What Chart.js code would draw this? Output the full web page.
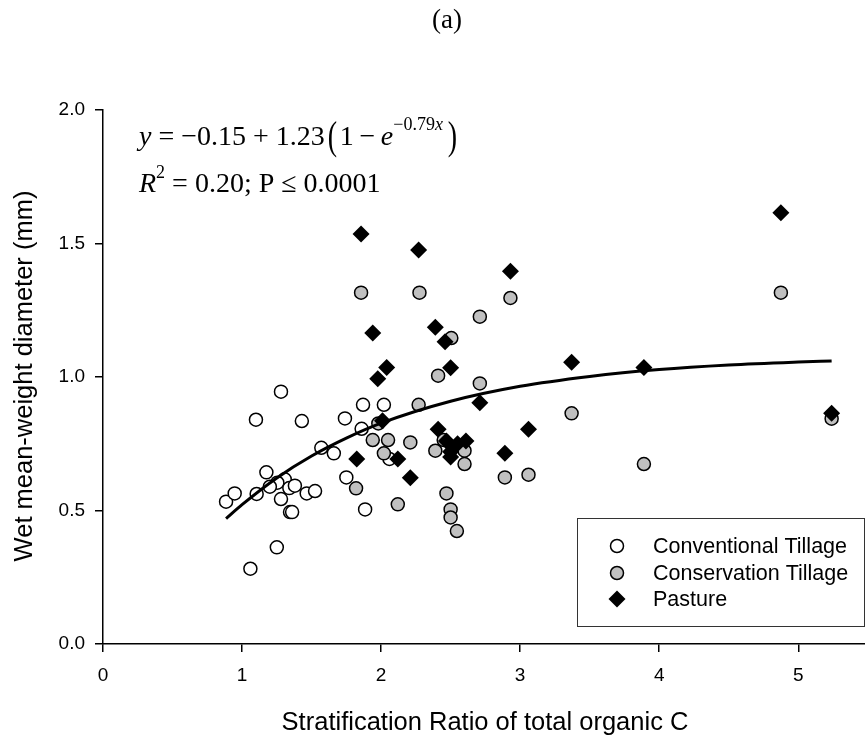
<!DOCTYPE html>
<html>
<head>
<meta charset="utf-8">
<title>Wet MWD vs stratification ratio</title>
<script src="https://cdn.jsdelivr.net/npm/chart.js@4"></script>
<style>
  html, body { margin: 0; padding: 0; background: #fff; }
  #wrap { width: 865px; height: 740px; }
</style>
</head>
<body>
<div id="wrap"><canvas id="myChart" width="865" height="740"></canvas></div>
<script>
// Conventional Tillage (open circles)
const convX = [0.885, 0.947, 1.06, 1.105, 1.10, 1.175, 1.25, 1.28, 1.28, 1.307, 1.254, 1.20, 1.34, 1.38,
    1.345, 1.36, 1.43, 1.465, 1.525, 1.57, 1.66, 1.74, 1.75, 1.86, 1.87, 1.885, 2.02, 2.06];
const convY = [0.533, 0.564, 0.282, 0.562, 0.84, 0.643, 0.362, 0.945, 0.543, 0.617, 0.604, 0.589, 0.584, 0.593,
    0.494, 0.494, 0.835, 0.564, 0.573, 0.735, 0.714, 0.845, 0.624, 0.806, 0.896, 0.504, 0.896, 0.693];

// Conservation Tillage (grey circles)
const consX = [1.82, 1.856, 1.94, 1.98, 2.02, 2.05, 2.12, 2.21, 2.27, 2.276, 2.39, 2.41, 2.45, 2.47, 2.50,
    2.50, 2.505, 2.545, 2.60, 2.60, 2.71, 2.71, 2.89, 2.93, 3.06, 3.37, 3.89, 4.875, 5.24];
const consY = [0.583, 1.316, 0.764, 0.826, 0.714, 0.764, 0.523, 0.755, 0.896, 1.316, 0.724, 1.005, 0.764, 0.564, 0.504,
    0.474, 1.146, 0.423, 0.724, 0.674, 1.226, 0.976, 0.624, 1.296, 0.634, 0.864, 0.674, 1.316, 0.844];

// Pasture (black diamonds)
const pastX = [1.825, 1.856, 1.94, 1.976, 2.01, 2.04, 2.12, 2.21, 2.27, 2.39, 2.41, 2.46, 2.47, 2.50, 2.50,
    2.50, 2.55, 2.61, 2.71, 2.89, 2.93, 3.06, 3.37, 3.89, 4.875, 5.24];
const pastY = [0.693, 1.536, 1.165, 0.993, 0.836, 1.036, 0.693, 0.623, 1.476, 1.186, 0.804, 1.132, 0.76, 1.035, 0.72,
    0.70, 0.75, 0.76, 0.904, 0.714, 1.396, 0.804, 1.055, 1.036, 1.615, 0.864];

// fitted curve
const fitX = [0.885, 1.0, 1.25, 1.5, 1.75, 2.0, 2.5, 3.0, 3.5, 4.0, 4.5, 5.0, 5.24];
const fitY = [0.47, 0.522, 0.622, 0.704, 0.771, 0.827, 0.909, 0.965, 1.002, 1.028, 1.045, 1.056, 1.06];

const xTicks = [0, 1, 2, 3, 4, 5];
const yTicks = [0.0, 0.5, 1.0, 1.5, 2.0];

const seriesNames = ["Conventional Tillage", "Conservation Tillage", "Pasture"];

function toPoints(xs, ys) {
    return xs.map((x, i) => ({ x: x, y: ys[i] }));
}

const SANS = '"Liberation Sans", Arial, sans-serif';
const SERIF = '"Liberation Serif", "Times New Roman", serif';

// El eje x llega hasta el borde derecho del lienzo
const areaPlugin = {
    id: "area",
    afterLayout(chart) {
        const s = chart.scales.x;
        const right = chart.width;
        s.right = right;
        s.width = right - s.left;
        s.configure();
        chart.chartArea.right = right;
        chart.chartArea.width = right - chart.chartArea.left;
    }
};

// Textos: titulo, ecuacion, titulos de ejes y leyenda
const textPlugin = {
    id: "textos",
    afterDraw(chart) {
        const ctx = chart.ctx;
        ctx.save();
        ctx.fillStyle = "#000";

        // (a)
        ctx.font = "27px " + SERIF;
        ctx.textAlign = "center";
        ctx.textBaseline = "alphabetic";
        ctx.fillText("(a)", 447, 28);

        // ecuacion
        ctx.textAlign = "left";
        let x = 139, base = 145;
        const put = (txt, font, dy) => {
            ctx.font = font;
            ctx.fillText(txt, x, base + (dy || 0));
            x += ctx.measureText(txt).width;
        };
        put("y", "italic 28px " + SERIF);
        put(" = \u22120.15 + 1.23", "28px " + SERIF);
        ctx.save();
        ctx.font = "28px " + SERIF;
        ctx.translate(x + 3, base - 9);
        ctx.scale(1, 1.4);
        ctx.fillText("(", 0, 9);
        ctx.restore();
        x += 15;
        put("1\u2009\u2212\u2009", "28px " + SERIF);
        put("e", "italic 28px " + SERIF);
        put("\u22120.79", "18px " + SERIF, -15);
        put("x", "italic 18px " + SERIF, -15);
        ctx.save();
        ctx.font = "28px " + SERIF;
        ctx.translate(x + 5, base - 9);
        ctx.scale(1, 1.4);
        ctx.fillText(")", 0, 9);
        ctx.restore();

        x = 139; base = 192;
        put("R", "italic 28px " + SERIF);
        put("2", "18px " + SERIF, -14);
        put(" = 0.20; P \u2264 0.0001", "28px " + SERIF);

        // titulos de ejes
        ctx.font = "25.5px " + SANS;
        ctx.textAlign = "center";
        ctx.textBaseline = "alphabetic";
        ctx.fillText("Stratification Ratio of total organic C", 485, 730);
        ctx.save();
        ctx.translate(32, 376);
        ctx.rotate(-Math.PI / 2);
        ctx.fillText("Wet mean-weight diameter (mm)", 0, 0);
        ctx.restore();

        // leyenda
        ctx.strokeStyle = "#333";
        ctx.lineWidth = 1;
        ctx.strokeRect(577.5, 518.5, 287, 108);
        ctx.font = "21.5px " + SANS;
        ctx.textAlign = "left";
        ctx.textBaseline = "middle";
        const rows = [546, 573, 599];
        const mx = 617;
        ctx.lineWidth = 1.5;
        ctx.strokeStyle = "#000";
        ctx.beginPath();
        ctx.arc(mx, rows[0], 6.5, 0, 2 * Math.PI);
        ctx.fillStyle = "#fff"; ctx.fill(); ctx.stroke();
        ctx.beginPath();
        ctx.arc(mx, rows[1], 6.5, 0, 2 * Math.PI);
        ctx.fillStyle = "#c0c0c0"; ctx.fill(); ctx.stroke();
        ctx.beginPath();
        ctx.moveTo(mx, rows[2] - 8.5); ctx.lineTo(mx + 8.5, rows[2]);
        ctx.lineTo(mx, rows[2] + 8.5); ctx.lineTo(mx - 8.5, rows[2]);
        ctx.closePath();
        ctx.fillStyle = "#000"; ctx.fill();
        seriesNames.forEach((name, i) => ctx.fillText(name, 653, rows[i] + 1));

        ctx.restore();
    }
};

const ctx = document.getElementById("myChart").getContext("2d");

const myChart = new Chart(ctx, {
    type: "scatter",
    data: {
        datasets: [
            {
                type: "line",
                label: "Ajuste",
                data: toPoints(fitX, fitY),
                borderColor: "#000",
                borderWidth: 3,
                pointRadius: 0,
                fill: false,
                cubicInterpolationMode: "monotone",
                order: 0
            },
            {
                label: seriesNames[2],
                data: toPoints(pastX, pastY),
                pointStyle: "rectRot",
                pointRadius: 8.5,
                pointBackgroundColor: "#000",
                pointBorderColor: "#000",
                pointBorderWidth: 0,
                order: 1
            },
            {
                label: seriesNames[1],
                data: toPoints(consX, consY),
                pointStyle: "circle",
                pointRadius: 6.5,
                pointBackgroundColor: "#c0c0c0",
                pointBorderColor: "#000",
                pointBorderWidth: 1.5,
                order: 2
            },
            {
                label: seriesNames[0],
                data: toPoints(convX, convY),
                pointStyle: "circle",
                pointRadius: 6.5,
                pointBackgroundColor: "#fff",
                pointBorderColor: "#000",
                pointBorderWidth: 1.5,
                order: 3
            }
        ]
    },
    options: {
        responsive: false,
        animation: false,
        devicePixelRatio: 1,
        layout: { padding: { top: 110, right: 0, left: 0, bottom: 0 } },
        scales: {
            x: {
                type: "linear",
                bounds: "data",
                min: 0,
                max: 5.48,
                afterFit: s => { s.height = 96; },
                afterBuildTicks: s => { s.ticks = xTicks.map(v => ({ value: v })); },
                ticks: {
                    includeBounds: false,
                    color: "#000",
                    padding: 12,
                    font: { family: SANS, size: 19 },
                    callback: v => String(v)
                },
                grid: { drawOnChartArea: false, drawTicks: true, tickLength: 8, color: "#000", lineWidth: 1.5 },
                border: { display: true, color: "#000", width: 1.5 }
            },
            y: {
                type: "linear",
                bounds: "data",
                min: 0,
                max: 2,
                afterFit: s => { s.width = 103; },
                afterBuildTicks: s => { s.ticks = yTicks.map(v => ({ value: v })); },
                ticks: {
                    color: "#000",
                    padding: 10,
                    font: { family: SANS, size: 19 },
                    callback: v => Number(v).toFixed(1)
                },
                grid: { drawOnChartArea: false, drawTicks: true, tickLength: 8, color: "#000", lineWidth: 1.5 },
                border: { display: true, color: "#000", width: 1.5 }
            }
        },
        plugins: {
            legend: { display: false },
            title: { display: false },
            tooltip: { enabled: false }
        }
    },
    plugins: [areaPlugin, textPlugin]
});
</script>
</body>
</html>
